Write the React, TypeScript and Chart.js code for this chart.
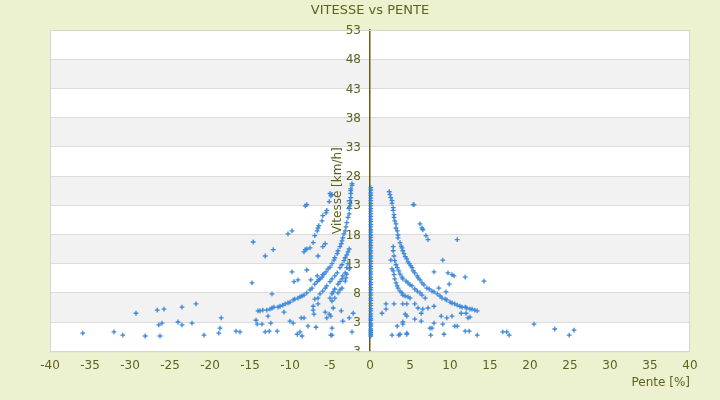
import { useEffect, useRef } from 'react';
import Chart from 'chart.js/auto';

// points [pente %, vitesse km/h]
const descenteCourbe1: [number, number][] = [
    [-2.25, 26.7], [-2.25, 26.4], [-2.4, 25.8], [-2.4, 25.5], [-2.4, 25.0], [-2.4, 24.3], [-2.5, 23.8],
    [-2.5, 23.3], [-2.5, 22.9], [-2.6, 22.4], [-2.6, 21.5], [-2.75, 20.9], [-2.9, 20.0], [-3.0, 19.3],
    [-3.1, 18.6], [-3.25, 18.1], [-3.4, 17.4], [-3.5, 16.9], [-3.6, 16.4], [-3.75, 15.9], [-4.0, 15.2],
    [-4.1, 14.7], [-4.4, 14.0], [-4.5, 13.6], [-4.75, 13.0], [-5.0, 12.4], [-5.25, 12.1], [-5.5, 11.6],
    [-5.75, 11.2], [-6.0, 10.7], [-6.25, 10.4], [-6.6, 9.9], [-6.9, 9.5], [-7.25, 8.8], [-7.5, 8.5],
    [-7.9, 8.0], [-8.25, 7.6], [-8.5, 7.45], [-8.75, 7.3], [-9.0, 7.1], [-9.4, 6.9], [-9.6, 6.8],
    [-10.0, 6.4], [-10.25, 6.25], [-10.6, 6.1], [-10.9, 5.9], [-11.25, 5.7], [-11.5, 5.55], [-12.0, 5.55],
    [-12.25, 5.4], [-12.5, 5.2], [-12.9, 5.05], [-13.4, 5.05], [-13.75, 4.9], [-14.0, 4.9],
];

const descenteCourbe2: [number, number][] = [
    [-2.6, 15.5], [-2.75, 15.0], [-2.9, 14.5], [-3.1, 14.0], [-3.25, 13.5], [-3.5, 12.8], [-3.75, 12.3],
    [-4.1, 11.4], [-4.4, 10.9], [-4.75, 10.4], [-5.0, 9.9], [-5.4, 9.2], [-5.6, 8.8], [-5.9, 8.3],
    [-6.25, 7.8], [-6.5, 7.1], [-6.9, 6.9],
];

const descenteCourbe3: [number, number][] = [
    [-2.75, 13.0], [-2.9, 12.3], [-3.1, 11.4], [-3.4, 10.9], [-3.5, 10.4], [-3.75, 9.9], [-4.0, 9.5],
    [-4.4, 8.65], [-4.6, 8.15], [-4.75, 7.8], [-5.0, 7.1],
    [-2.6, 12.1], [-2.9, 11.2], [-3.0, 10.55], [-3.1, 10.0], [-3.5, 8.8], [-3.75, 8.5], [-4.0, 8.0],
    [-4.4, 7.1], [-4.75, 6.6],
];

const descenteDispersee: [number, number][] = [
    [-5.4, 22.1], [-5.5, 21.7], [-5.9, 21.2], [-6.0, 20.3], [-6.4, 19.5], [-6.5, 19.1], [-6.6, 18.6],
    [-6.9, 17.8], [-7.1, 16.6], [-7.5, 15.7], [-7.9, 15.5], [-8.1, 15.4], [-8.25, 15.0],
    [-5.0, 25.0], [-4.9, 24.6], [-4.75, 24.8], [-5.1, 23.6], [-7.9, 23.1], [-8.1, 22.9],
    [-10.25, 18.1], [-9.75, 18.6], [-14.6, 16.7], [-12.1, 15.4], [-13.1, 14.3], [-14.75, 9.7],
    [-9.75, 11.6], [-9.5, 9.9], [-9.0, 10.2], [-7.9, 11.9], [-7.4, 10.2], [-6.6, 10.9], [-6.4, 10.2],
    [-5.9, 11.1], [-6.5, 14.3], [-5.9, 15.9], [-5.6, 16.4], [-12.25, 7.8],
    [-35.9, 1.1], [-32.0, 1.3], [-30.9, 0.75], [-29.25, 4.5], [-28.1, 0.6], [-26.6, 5.05], [-26.4, 2.5],
    [-26.0, 2.8], [-26.25, 0.6], [-25.75, 5.2], [-24.0, 3.0], [-23.5, 5.55], [-23.5, 2.5], [-22.25, 2.8],
    [-21.75, 6.1], [-20.75, 0.75], [-18.9, 1.1], [-18.75, 1.95], [-18.6, 3.7], [-16.75, 1.45],
    [-16.25, 1.3], [-14.25, 3.3], [-14.1, 2.65], [-13.5, 2.65], [-13.1, 1.3], [-12.75, 4.0], [-12.6, 1.45],
    [-12.4, 2.8], [-11.6, 1.45], [-10.75, 4.7], [-10.0, 3.15], [-9.6, 2.8], [-9.1, 0.9], [-8.75, 1.3],
    [-8.5, 0.6], [-8.6, 3.7], [-8.25, 3.7], [-7.75, 2.3], [-7.1, 5.7], [-7.1, 5.05], [-7.0, 4.35],
    [-6.75, 2.1], [-6.5, 6.1], [-5.6, 4.7], [-5.4, 3.7], [-5.1, 4.35], [-4.9, 4.0], [-4.6, 5.4],
    [-4.75, 1.95], [-4.75, 0.75], [-4.9, 0.75], [-3.6, 4.9], [-3.4, 3.15], [-2.6, 3.7], [-2.25, 1.3],
    [-2.1, 4.5],
];

// vitesses relevées à pente nulle
const vitessesPlat: number[] = [
    26.0, 25.6, 25.1, 24.7, 24.2, 23.8, 23.3, 22.9, 22.4, 22.0, 21.5, 21.1, 20.6, 20.2, 19.7, 19.3,
    18.8, 18.4, 17.9, 17.5, 17.0, 16.6, 16.1, 15.7, 15.2, 14.8, 14.3, 13.9, 13.4, 13.0, 12.5, 12.1,
    11.6, 11.2, 10.7, 10.3, 9.8, 9.4, 8.9, 8.5, 8.0, 7.6, 7.1, 6.7, 6.2, 5.8, 5.3, 4.9, 4.4, 4.0,
    3.6, 3.3, 2.8, 2.5, 2.3, 1.8, 1.5, 1.2, 0.9, 0.6,
];

const monteeCourbe1: [number, number][] = [
    [2.4, 25.3], [2.5, 24.8], [2.6, 24.3], [2.75, 23.8], [2.75, 23.3], [2.9, 22.6], [2.9, 22.1],
    [3.0, 21.4], [3.0, 20.9], [3.1, 20.3], [3.25, 19.8], [3.25, 19.1], [3.4, 18.6], [3.5, 17.9],
    [3.5, 17.4], [3.75, 16.6], [3.9, 16.0], [4.0, 15.7], [4.1, 15.2], [4.25, 14.7], [4.4, 14.2],
    [4.6, 13.8], [4.75, 13.3], [4.9, 13.0], [5.1, 12.6], [5.25, 12.3], [5.4, 11.75], [5.6, 11.4],
    [5.9, 10.9], [6.0, 10.55], [6.25, 10.2], [6.5, 9.7], [6.75, 9.35], [7.1, 8.8], [7.4, 8.65],
    [7.75, 8.3], [8.0, 8.15], [8.4, 7.8], [8.75, 7.45], [9.0, 7.1], [9.4, 6.9], [9.6, 6.8], [10.0, 6.4],
    [10.25, 6.25], [10.6, 6.1], [10.9, 5.9], [11.25, 5.7], [11.5, 5.55], [11.9, 5.55], [12.1, 5.4],
    [12.5, 5.2], [12.75, 5.2], [13.1, 5.05], [13.4, 4.9],
];

const monteeCourbe2: [number, number][] = [
    [2.9, 15.2], [3.0, 14.3], [3.1, 13.5], [3.25, 12.8], [3.4, 12.3], [3.6, 11.75], [3.75, 11.2],
    [4.0, 10.7], [4.1, 10.4], [4.5, 10.0], [4.75, 9.7], [5.0, 9.35], [5.25, 9.2], [5.6, 8.65],
    [5.9, 8.3], [6.25, 8.0], [6.5, 7.6], [6.9, 7.1],
    [2.9, 11.75], [3.0, 11.1], [3.1, 10.4], [3.25, 9.7], [3.4, 9.2], [3.5, 8.8], [3.75, 8.3],
    [4.0, 8.0], [4.1, 7.6], [4.4, 7.45], [4.75, 7.3], [5.0, 7.1],
];

const monteeDispersee: [number, number][] = [
    [5.4, 23.1], [5.5, 23.1], [6.25, 19.8], [6.5, 19.1], [6.6, 18.8], [7.0, 17.8], [7.25, 17.1],
    [10.9, 17.1], [9.1, 13.6], [8.0, 11.6], [9.75, 11.4], [10.25, 11.1], [10.5, 10.9], [11.9, 10.7],
    [9.9, 9.5], [14.25, 10.0], [8.6, 8.8], [9.5, 8.15], [2.9, 15.9], [2.6, 13.6], [2.75, 12.1],
    [1.5, 4.5], [2.0, 6.1], [2.0, 5.2], [3.0, 6.1], [4.1, 6.1], [4.6, 6.1], [5.6, 6.1], [6.0, 5.4],
    [6.4, 4.5], [6.6, 5.2], [7.25, 5.4], [8.0, 5.7], [4.4, 4.35], [4.6, 4.0], [4.1, 3.0], [4.1, 2.65],
    [3.4, 2.3], [5.6, 3.5], [6.4, 3.15], [7.5, 1.95], [7.75, 1.95], [8.0, 2.8], [8.9, 4.0], [9.6, 3.7],
    [10.25, 4.0], [9.1, 2.65], [10.6, 2.3], [10.9, 2.3], [11.4, 4.5], [12.0, 4.5], [12.25, 3.7],
    [12.5, 3.85], [11.9, 1.45], [12.4, 1.45], [2.75, 0.75], [3.6, 0.75], [3.75, 0.9], [4.6, 1.1],
    [4.6, 0.9], [7.6, 0.75], [9.25, 0.9], [13.4, 0.75], [16.6, 1.3], [17.1, 1.3], [17.4, 0.75],
    [20.5, 2.65], [23.1, 1.8], [24.9, 0.75], [25.5, 1.6],
];

const penteMin = -40;
const penteMax = 40;
const penteStep = 5;
const vitesseMin = -2;
const vitesseMax = 53;
const vitesseStep = 5;

const TEXT = '#5f601e';
const PAGE_BG = '#ecf1cf';
const BAND = '#f2f2f2';
const GRID = '#dcdcdc';
const BLUE = '#3b86d9';
const FONT = '"DejaVu Sans", Verdana, sans-serif';

export default function App() {
    const canvasRef = useRef<HTMLCanvasElement | null>(null);

    useEffect(() => {
        if (!canvasRef.current) {
            return;
        }
        document.body.style.margin = '0';
        document.body.style.background = PAGE_BG;

        const points = [
            ...descenteCourbe1,
            ...descenteCourbe2,
            ...descenteCourbe3,
            ...descenteDispersee,
            ...vitessesPlat.map((v) => [0.1, v] as [number, number]),
            ...monteeCourbe1,
            ...monteeCourbe2,
            ...monteeDispersee,
        ].map(([x, y]) => ({ x, y }));

        const fond = {
            id: 'fond',
            beforeDraw(chart: Chart) {
                const { ctx, chartArea: a } = chart;
                const yScale = chart.scales.y;
                ctx.save();
                ctx.fillStyle = PAGE_BG;
                ctx.fillRect(0, 0, chart.width, chart.height);
                ctx.fillStyle = '#ffffff';
                ctx.fillRect(a.left, a.top, a.right - a.left, a.bottom - a.top);
                ctx.fillStyle = BAND;
                const ticks = yScale.ticks.map((t) => t.value).sort((p, q) => q - p);
                for (let i = 1; i < ticks.length - 1; i += 2) {
                    const y1 = yScale.getPixelForValue(ticks[i]);
                    const y2 = yScale.getPixelForValue(ticks[i + 1]);
                    ctx.fillRect(a.left, y1, a.right - a.left, y2 - y1);
                }
                ctx.restore();
            },
            beforeDatasetsDraw(chart: Chart) {
                const { ctx, chartArea: a } = chart;
                const yScale = chart.scales.y;
                const x0 = chart.scales.x.getPixelForValue(0);
                ctx.save();
                ctx.strokeStyle = '#d6d6d6';
                ctx.lineWidth = 1;
                ctx.strokeRect(a.left + 0.5, a.top + 0.5, a.right - a.left - 1, a.bottom - a.top);
                // étiquettes de l'axe des vitesses, à gauche de l'axe central
                ctx.beginPath();
                ctx.rect(0, 0, chart.width, a.bottom);
                ctx.clip();
                ctx.fillStyle = TEXT;
                ctx.font = `12px ${FONT}`;
                ctx.textAlign = 'right';
                ctx.textBaseline = 'middle';
                yScale.ticks.forEach((t) => {
                    const label = t.value === vitesseMin ? '3' : String(t.value);
                    ctx.fillText(label, x0 - 9, yScale.getPixelForValue(t.value) + 1);
                });
                ctx.restore();
            },
            afterDraw(chart: Chart) {
                const { ctx, chartArea: a } = chart;
                const x0 = chart.scales.x.getPixelForValue(0);
                ctx.save();
                ctx.fillStyle = TEXT;
                ctx.font = `12px ${FONT}`;
                ctx.textAlign = 'center';
                ctx.textBaseline = 'middle';
                ctx.translate(x0 - 32, (a.top + a.bottom) / 2);
                ctx.rotate(-Math.PI / 2);
                ctx.fillText('Vitesse [km/h]', 0, 0);
                ctx.restore();
            },
        };

        const chart = new Chart(canvasRef.current, {
            type: 'scatter',
            data: {
                datasets: [
                    {
                        label: 'Vitesse',
                        data: points,
                        pointStyle: 'cross',
                        pointRadius: 2.4,
                        pointBorderWidth: 1.3,
                        borderColor: BLUE,
                        backgroundColor: BLUE,
                        pointHoverRadius: 2.4,
                    },
                ],
            },
            options: {
                responsive: true,
                maintainAspectRatio: false,
                animation: false,
                layout: { padding: { left: 50, right: 30, top: 0, bottom: 8 } },
                plugins: {
                    legend: { display: false },
                    tooltip: { enabled: false },
                    title: {
                        display: true,
                        text: 'VITESSE vs PENTE',
                        color: TEXT,
                        font: { family: FONT, size: 13, weight: 'normal' },
                        padding: { top: 3, bottom: 11.4 },
                    },
                },
                scales: {
                    x: {
                        type: 'linear',
                        min: penteMin,
                        max: penteMax,
                        grid: { display: false, drawTicks: false, tickLength: 0 },
                        border: { display: false },
                        ticks: {
                            stepSize: penteStep,
                            padding: 7,
                            color: TEXT,
                            font: { family: FONT, size: 12 },
                            maxRotation: 0,
                        },
                        title: {
                            display: true,
                            text: 'Pente [%]',
                            align: 'end',
                            color: TEXT,
                            font: { family: FONT, size: 12 },
                            padding: { top: -4, bottom: 2 },
                        },
                    },
                    y: {
                        type: 'linear',
                        position: { x: 0 },
                        min: vitesseMin,
                        max: vitesseMax,
                        grid: { color: GRID, lineWidth: 1, drawTicks: false, tickLength: 0 },
                        border: { display: true, color: '#5f6014', width: 1.5 },
                        ticks: {
                            display: false,
                            stepSize: vitesseStep,
                        },
                    },
                },
            },
            plugins: [fond],
        });
        return () => chart.destroy();
    }, []);

    return (
        <div style={{ width: '720px', height: '400px', position: 'relative' }}>
            <canvas ref={canvasRef} />
        </div>
    );
}
